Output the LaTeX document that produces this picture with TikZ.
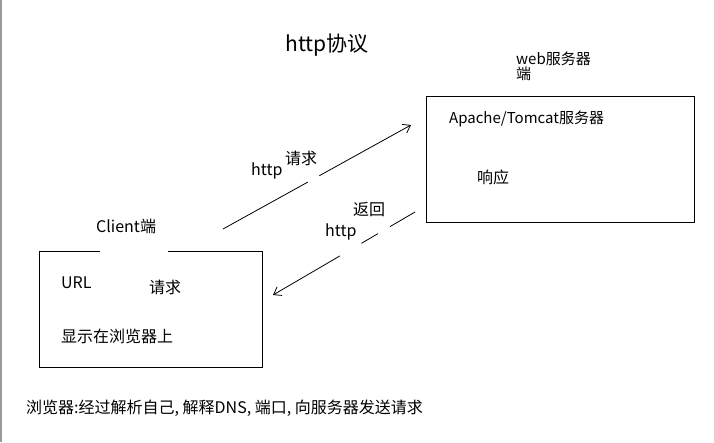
\documentclass[tikz,border=0pt]{standalone}
\usepackage{fontspec}
\setmainfont{Noto Sans CJK SC}
\usetikzlibrary{arrows.meta}

\tikzset{
    txt/.style={anchor=west, inner sep=0pt, font=\fontsize{16}{16}\selectfont},
    flow/.style={line width=0.8pt, -{Straight Barb[length=7pt, width=10pt]}}
}

\begin{document}
\begin{tikzpicture}[x=1pt, y=-1pt]
    \useasboundingbox (0,0) rectangle (714,442);
    \draw[gray!80, line width=2pt] (1,0) -- (1,442);

    % Draw nodes
    \node[inner sep=0pt, font=\fontsize{21}{21}\selectfont] (title) at (327,45) {http协议};
    \node[anchor=north west, inner sep=0pt, align=left, font=\fontsize{15}{13}\selectfont] (web) at (516,52) {web服务器\\端};
    \node[draw, line width=0.8pt, minimum width=268pt, minimum height=126pt] (server) at (560,159) {};
    \node[txt, font=\fontsize{15}{15}\selectfont] (apache) at (449,119) {Apache/Tomcat服务器};
    \node[txt] (resp) at (477,177) {响应};

    \node[minimum width=222pt, minimum height=115pt] (client) at (151,309.5) {};
    \node[txt] (clientlbl) at (96,226) {Client端};
    \node[txt] (url) at (61,283) {URL};
    \node[txt] (req) at (149,287) {请求};
    \node[txt] (show) at (61,336) {显示在浏览器上};
    \node[txt] (note) at (26,408) {浏览器:经过解析自己, 解释DNS, 端口, 向服务器发送请求};

    % Client box with gap on top
    \draw[line width=0.8pt] ([xshift=60pt]client.north west) -- (client.north west)
        -- (client.south west) -- (client.south east) -- (client.north east)
        -- ([xshift=-94pt]client.north east);

    % Draw connections
    \coordinate (reqstart) at (223,229);
    \coordinate (reqend) at (411,125);
    \coordinate (retstart) at (415,212);
    \coordinate (retend) at (273,295);
    \draw[flow, dash pattern=on 97pt off 13pt on 300pt] (reqstart) -- (reqend);
    \draw[flow, dash pattern=on 29pt off 14pt on 19pt off 25pt on 300pt] (retstart) -- (retend);

    % Labels
    \node[txt] (reqhttp) at (251,171) {http};
    \node[txt] (reqlbl) at (285,158) {请求};
    \node[txt] (rethttp) at (325,232) {http};
    \node[txt] (retlbl) at (353,210) {返回};
\end{tikzpicture}
\end{document}
